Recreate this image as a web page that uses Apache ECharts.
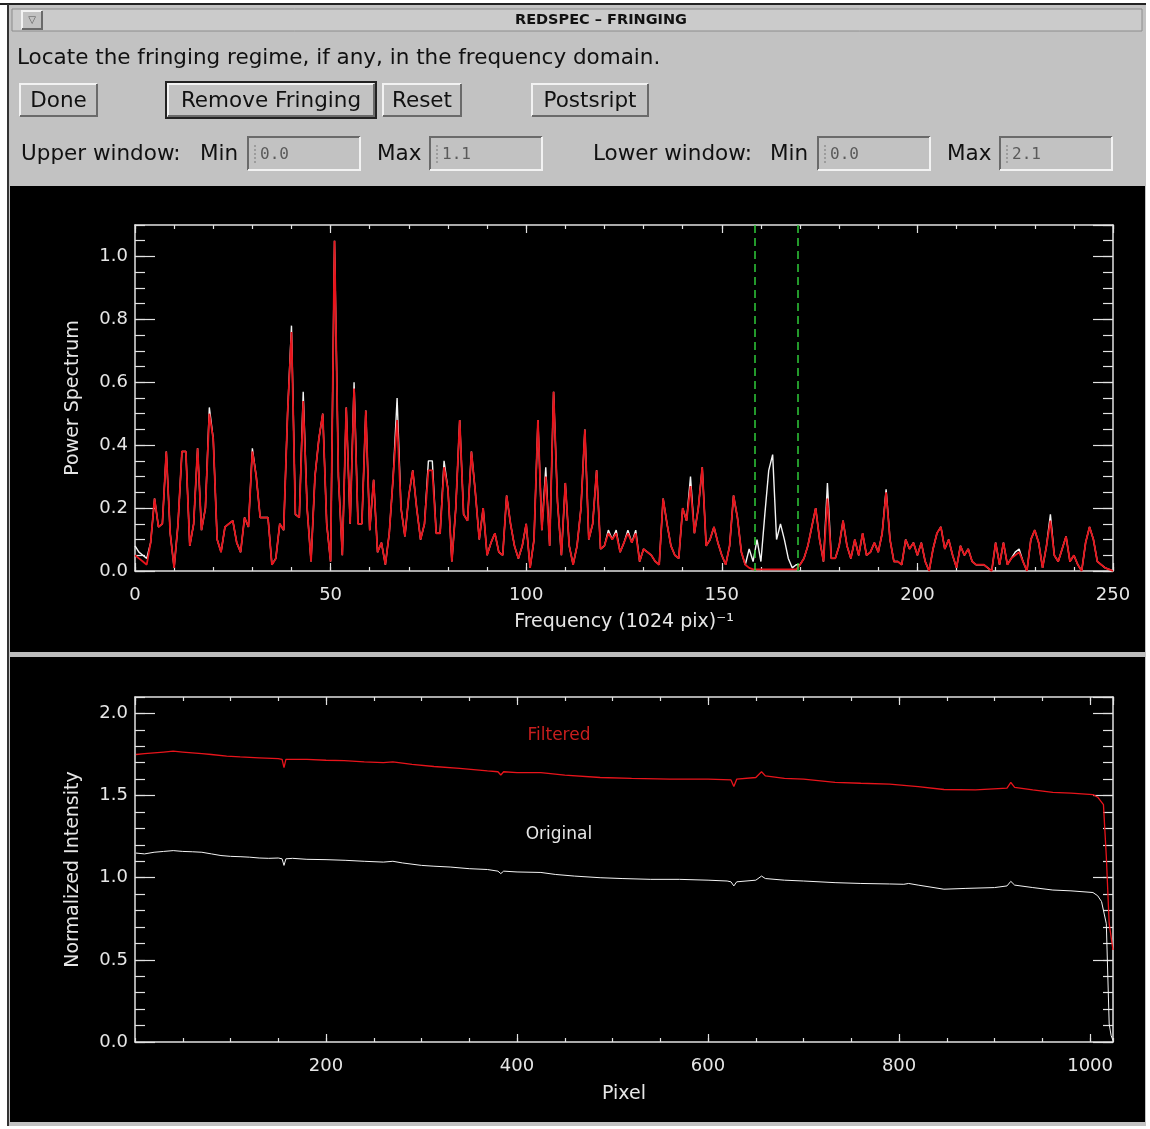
<!DOCTYPE html>
<html>
<head>
<meta charset="utf-8">
<title>REDSPEC - FRINGING</title>
<script src="https://cdn.jsdelivr.net/npm/echarts@6/dist/echarts.min.js"></script>
<style>
  * { margin: 0; padding: 0; }
  html, body { width: 1150px; height: 1129px; background: #fff; overflow: hidden; }
  #main { width: 1150px; height: 1129px; }
</style>
</head>
<body>
<div id="main"></div>
<script>
// upper window: power spectrum, one value per frequency bin (0..250)
var originalPower = [
  0.08, 0.06, 0.05, 0.04, 0.09, 0.23, 0.14, 0.15, 0.38, 0.12,
  0.01, 0.15, 0.38, 0.38, 0.08, 0.15, 0.39, 0.13, 0.20, 0.52,
  0.42, 0.10, 0.06, 0.14, 0.15, 0.16, 0.09, 0.06, 0.17, 0.14,
  0.39, 0.30, 0.17, 0.17, 0.17, 0.02, 0.04, 0.15, 0.13, 0.50,
  0.78, 0.18, 0.17, 0.57, 0.20, 0.03, 0.30, 0.42, 0.50, 0.15,
  0.03, 1.05, 0.30, 0.05, 0.52, 0.15, 0.60, 0.15, 0.15, 0.51,
  0.13, 0.29, 0.06, 0.09, 0.02, 0.12, 0.30, 0.55, 0.20, 0.11,
  0.24, 0.32, 0.20, 0.10, 0.15, 0.35, 0.35, 0.12, 0.12, 0.35,
  0.26, 0.03, 0.20, 0.48, 0.18, 0.16, 0.38, 0.25, 0.10, 0.20,
  0.05, 0.09, 0.12, 0.06, 0.05, 0.24, 0.15, 0.08, 0.04, 0.08,
  0.15, 0.01, 0.10, 0.48, 0.13, 0.33, 0.08, 0.57, 0.22, 0.05,
  0.28, 0.08, 0.02, 0.08, 0.20, 0.45, 0.10, 0.15, 0.32, 0.07,
  0.08, 0.13, 0.10, 0.13, 0.06, 0.09, 0.13, 0.09, 0.13, 0.03,
  0.07, 0.06, 0.05, 0.03, 0.02, 0.23, 0.15, 0.08, 0.05, 0.04,
  0.20, 0.16, 0.30, 0.12, 0.20, 0.33, 0.08, 0.10, 0.14, 0.09,
  0.05, 0.02, 0.08, 0.24, 0.17, 0.06, 0.02, 0.07, 0.03, 0.10,
  0.03, 0.18, 0.32, 0.37, 0.10, 0.15, 0.10, 0.04, 0.01, 0.02,
  0.02, 0.04, 0.08, 0.14, 0.20, 0.10, 0.03, 0.28, 0.04, 0.04,
  0.08, 0.16, 0.08, 0.04, 0.10, 0.05, 0.12, 0.05, 0.06, 0.09,
  0.06, 0.12, 0.26, 0.10, 0.03, 0.03, 0.02, 0.10, 0.07, 0.09,
  0.05, 0.09, 0.03, 0.00, 0.07, 0.12, 0.14, 0.07, 0.10, 0.05,
  0.01, 0.08, 0.05, 0.07, 0.03, 0.02, 0.02, 0.02, 0.01, 0.00,
  0.09, 0.02, 0.09, 0.02, 0.04, 0.06, 0.07, 0.03, 0.00, 0.10,
  0.13, 0.09, 0.01, 0.08, 0.18, 0.05, 0.03, 0.07, 0.11, 0.03,
  0.05, 0.02, 0.00, 0.09, 0.14, 0.10, 0.03, 0.02, 0.01, 0.005,
  0.00
];
var filteredPower = [
  0.05, 0.04, 0.03, 0.02, 0.09, 0.23, 0.14, 0.15, 0.38, 0.12,
  0.01, 0.15, 0.38, 0.38, 0.08, 0.15, 0.39, 0.13, 0.20, 0.50,
  0.42, 0.10, 0.06, 0.14, 0.15, 0.16, 0.09, 0.06, 0.17, 0.14,
  0.38, 0.30, 0.17, 0.17, 0.17, 0.02, 0.04, 0.15, 0.13, 0.50,
  0.76, 0.18, 0.17, 0.54, 0.20, 0.03, 0.30, 0.42, 0.50, 0.15,
  0.03, 1.05, 0.30, 0.05, 0.52, 0.15, 0.58, 0.15, 0.15, 0.51,
  0.13, 0.29, 0.06, 0.09, 0.02, 0.12, 0.30, 0.48, 0.20, 0.11,
  0.24, 0.32, 0.20, 0.10, 0.15, 0.32, 0.32, 0.12, 0.12, 0.33,
  0.26, 0.03, 0.20, 0.48, 0.18, 0.16, 0.38, 0.25, 0.10, 0.20,
  0.05, 0.09, 0.12, 0.06, 0.05, 0.24, 0.15, 0.08, 0.04, 0.08,
  0.15, 0.01, 0.10, 0.48, 0.13, 0.30, 0.08, 0.57, 0.22, 0.05,
  0.28, 0.08, 0.02, 0.08, 0.20, 0.45, 0.10, 0.15, 0.32, 0.07,
  0.08, 0.12, 0.10, 0.12, 0.06, 0.09, 0.12, 0.09, 0.12, 0.03,
  0.07, 0.06, 0.05, 0.03, 0.02, 0.23, 0.15, 0.08, 0.05, 0.04,
  0.20, 0.16, 0.27, 0.12, 0.20, 0.33, 0.08, 0.10, 0.14, 0.09,
  0.05, 0.02, 0.08, 0.24, 0.17, 0.06, 0.02, 0.01, 0.005, 0.005,
  0.005, 0.005, 0.005, 0.005, 0.005, 0.005, 0.005, 0.005, 0.005, 0.005,
  0.02, 0.04, 0.08, 0.14, 0.20, 0.10, 0.03, 0.23, 0.04, 0.04,
  0.08, 0.16, 0.08, 0.04, 0.10, 0.05, 0.12, 0.05, 0.06, 0.09,
  0.06, 0.12, 0.25, 0.10, 0.03, 0.03, 0.02, 0.10, 0.07, 0.09,
  0.05, 0.09, 0.03, 0.00, 0.07, 0.12, 0.14, 0.07, 0.10, 0.05,
  0.01, 0.08, 0.05, 0.07, 0.03, 0.02, 0.02, 0.02, 0.01, 0.00,
  0.09, 0.02, 0.09, 0.02, 0.04, 0.05, 0.06, 0.03, 0.00, 0.10,
  0.13, 0.09, 0.01, 0.08, 0.16, 0.05, 0.03, 0.07, 0.11, 0.03,
  0.05, 0.02, 0.00, 0.09, 0.14, 0.10, 0.03, 0.02, 0.01, 0.005,
  0.00
];
// frequency window picked for removal
var fringeWindow = [158.3, 169.3];

// lower window: [pixel, normalized intensity]
var originalSpec = [
  [1, 1.15], [10, 1.145], [20, 1.155], [30, 1.16], [40, 1.165], [50, 1.16], [60, 1.158],
  [70, 1.155], [80, 1.145], [90, 1.135], [100, 1.13], [110, 1.128], [120, 1.125], [130, 1.12],
  [140, 1.118], [150, 1.12], [154, 1.115], [156, 1.075], [158, 1.115], [165, 1.118], [180, 1.112],
  [200, 1.11], [220, 1.106], [240, 1.1], [260, 1.095], [270, 1.1], [280, 1.09], [300, 1.075],
  [313, 1.07], [330, 1.065], [350, 1.055], [369, 1.05], [380, 1.04], [383, 1.025], [386, 1.04],
  [400, 1.035], [425, 1.032], [440, 1.02], [460, 1.01], [487, 1.0], [510, 0.995], [540, 0.99],
  [570, 0.99], [600, 0.985], [620, 0.98], [624, 0.975], [627, 0.95], [630, 0.975], [650, 0.985],
  [656, 1.01], [660, 0.995], [680, 0.985], [700, 0.98], [733, 0.97], [760, 0.965], [790, 0.962],
  [805, 0.96], [810, 0.965], [820, 0.955], [847, 0.93], [870, 0.935], [900, 0.94], [913, 0.95],
  [917, 0.978], [921, 0.955], [940, 0.94], [961, 0.925], [980, 0.92], [1003, 0.91], [1008, 0.89],
  [1012, 0.855], [1014, 0.865], [1017, 0.72], [1020, 0.11], [1022, 0.04], [1024, 0.01]
];
var filteredSpec = [
  [1, 1.75], [10, 1.755], [20, 1.76], [30, 1.765], [40, 1.77], [50, 1.765], [60, 1.76],
  [70, 1.755], [80, 1.75], [96, 1.74], [110, 1.735], [130, 1.73], [150, 1.725], [154, 1.72],
  [156, 1.67], [158, 1.72], [180, 1.72], [200, 1.715], [219, 1.713], [240, 1.705], [260, 1.7],
  [270, 1.705], [290, 1.69], [313, 1.677], [340, 1.665], [369, 1.65], [380, 1.645], [383, 1.625],
  [386, 1.645], [400, 1.64], [425, 1.64], [450, 1.625], [487, 1.61], [520, 1.605], [560, 1.6],
  [600, 1.6], [624, 1.595], [627, 1.555], [630, 1.6], [650, 1.61], [656, 1.645], [660, 1.62],
  [680, 1.605], [700, 1.6], [733, 1.58], [760, 1.575], [790, 1.57], [820, 1.555], [847, 1.537],
  [880, 1.535], [913, 1.545], [917, 1.58], [921, 1.55], [940, 1.535], [961, 1.52], [980, 1.515],
  [1003, 1.506], [1008, 1.49], [1012, 1.46], [1014, 1.445], [1017, 1.13], [1020, 0.72], [1024, 0.56]
];

var AX = '#e2e2e2';
var TXT = '#e6e6e6';
var FONT = '"DejaVu Sans", sans-serif';
var GUI = '#c2c2c2';

function withBins(values) {
  return values.map(function (v, i) { return [i, v]; });
}

// two opposite axes (bottom/top or left/right) for one grid
function frame(grid, dim, cfg, minor) {
  var sides = dim === 'x' ? ['bottom', 'top'] : ['left', 'right'];
  return sides.map(function (side, k) {
    var main = !minor && k === 0;
    var ax = {
      type: 'value', gridIndex: grid, position: side,
      min: cfg.min, max: cfg.max, interval: minor ? cfg.minor : cfg.major,
      axisLine: { show: !minor, onZero: false, lineStyle: { color: AX, width: 1.5 } },
      axisTick: { show: true, inside: true, length: minor ? cfg.minorLen : cfg.majorLen,
                  lineStyle: { color: AX, width: 1.2 } },
      axisLabel: { show: main, color: TXT, fontSize: 18, fontFamily: FONT, margin: cfg.margin,
                   formatter: cfg.fmt, showMinLabel: cfg.showMin, showMaxLabel: cfg.showMax },
      splitLine: { show: false }
    };
    if (main) {
      ax.name = cfg.name;
      ax.nameLocation = 'middle';
      ax.nameGap = cfg.nameGap;
      ax.nameRotate = dim === 'y' ? 90 : 0;
      ax.nameTextStyle = { color: TXT, fontSize: 19, fontFamily: FONT };
    }
    return ax;
  });
}

var upperX = { min: 0, max: 250, major: 50, minor: 10, majorLen: 8, minorLen: 4, margin: 15,
  fmt: function (v) { return String(v); }, showMin: true, showMax: true,
  name: 'Frequency (1024 pix)\u207B\u00B9', nameGap: 42 };
var upperY = { min: 0, max: 1.1, major: 0.2, minor: 0.05, majorLen: 20, minorLen: 10, margin: 7,
  fmt: function (v) { return v.toFixed(1); }, showMin: true, showMax: false,
  name: 'Power Spectrum', nameGap: 52 };
var lowerX = { min: 0, max: 1024, major: 200, minor: 50, majorLen: 8, minorLen: 4, margin: 15,
  fmt: function (v) { return String(v); }, showMin: false, showMax: false,
  name: 'Pixel', nameGap: 43 };
var lowerY = { min: 0, max: 2.1, major: 0.5, minor: 0.1, majorLen: 20, minorLen: 10, margin: 7,
  fmt: function (v) { return v.toFixed(1); }, showMin: true, showMax: false,
  name: 'Normalized Intensity', nameGap: 52 };

var xAxes = [].concat(frame(0, 'x', upperX, false), frame(1, 'x', upperX, true),
                      frame(2, 'x', lowerX, false), frame(3, 'x', lowerX, true));
var yAxes = [].concat(frame(0, 'y', upperY, false), frame(1, 'y', upperY, true),
                      frame(2, 'y', lowerY, false), frame(3, 'y', lowerY, true));

// widget chrome of the IDL window
function bevel(x, y, w, h, raised) {
  var light = '#f2f2f2', dark = '#6a6a6a';
  return [
    { type: 'rect', z: -5, shape: { x: x, y: y, width: w, height: h }, style: { fill: GUI } },
    { type: 'polyline', z: -4, shape: { points: [[x, y + h], [x, y], [x + w, y]] },
      style: { stroke: raised ? light : dark, lineWidth: 2, fill: null } },
    { type: 'polyline', z: -4, shape: { points: [[x, y + h], [x + w, y + h], [x + w, y]] },
      style: { stroke: raised ? dark : light, lineWidth: 2, fill: null } }
  ];
}
function label(x, y, text, opts) {
  opts = opts || {};
  return { type: 'text', z: -3, x: x, y: y,
    style: { text: text, fill: opts.color || '#111', align: opts.align || 'left', verticalAlign: 'middle',
             font: (opts.weight || 'normal') + ' ' + (opts.size || 21.5) + 'px ' + (opts.family || FONT) } };
}
function button(x, y, w, h, text) {
  return bevel(x, y, w, h, true).concat([label(x + w / 2, y + h / 2 + 1, text, { align: 'center' })]);
}
function field(x, y, text) {
  return bevel(x, y, 112, 33, false).concat([
    { type: 'line', z: -3, shape: { x1: x + 7, y1: y + 8, x2: x + 7, y2: y + 26 },
      style: { stroke: '#777', lineWidth: 1, lineDash: [2, 2] } },
    label(x + 12, y + 18, text, { size: 16, color: '#5a5a5a', family: '"DejaVu Sans Mono", monospace' })
  ]);
}

var chrome = [
  { type: 'rect', z: -10, shape: { x: 8, y: 5, width: 1138, height: 1121 }, style: { fill: GUI } },
  { type: 'line', z: -9, shape: { x1: 0, y1: 4, x2: 1146, y2: 4 }, style: { stroke: '#222', lineWidth: 2 } },
  { type: 'line', z: -9, shape: { x1: 8, y1: 4, x2: 8, y2: 1126 }, style: { stroke: '#333', lineWidth: 2 } },
  { type: 'rect', z: -9, shape: { x: 12, y: 9, width: 1130, height: 22 },
    style: { fill: '#cbcbcb', stroke: '#8c8c8c', lineWidth: 1 } }
].concat(bevel(22, 11, 20, 18, true), [
  label(32, 20, '\u25BD', { align: 'center', size: 10, color: '#555' }),
  label(601, 20, 'REDSPEC \u2013 FRINGING', { align: 'center', size: 14.5, weight: 'bold' }),
  label(17, 58, 'Locate the fringing regime, if any, in the frequency domain.')
], button(20, 84, 77, 32, 'Done'),
   [{ type: 'rect', z: -6, shape: { x: 166, y: 82, width: 210, height: 36 },
      style: { fill: null, stroke: '#222', lineWidth: 2 } }],
   button(168, 84, 206, 32, 'Remove Fringing'),
   button(383, 84, 78, 32, 'Reset'),
   button(532, 84, 116, 32, 'Postsript'),
   [label(21, 154, 'Upper window:'), label(200, 154, 'Min'), label(377, 154, 'Max'),
    label(593, 154, 'Lower window:'), label(770, 154, 'Min'), label(947, 154, 'Max')],
   field(248, 137, '0.0'), field(430, 137, '1.1'), field(818, 137, '0.0'), field(1000, 137, '2.1'),
   [
    { type: 'rect', z: -9, shape: { x: 10, y: 186, width: 1135, height: 466 }, style: { fill: '#000' } },
    { type: 'rect', z: -9, shape: { x: 10, y: 652, width: 1135, height: 5 }, style: { fill: '#bdbdbd' } },
    { type: 'rect', z: -9, shape: { x: 10, y: 657, width: 1135, height: 465 }, style: { fill: '#000' } },
    { type: 'text', z: 10, x: 559, y: 736,
      style: { text: 'Filtered', fill: '#c81e1e', align: 'center', verticalAlign: 'middle', font: '17px ' + FONT } },
    { type: 'text', z: 10, x: 559, y: 835,
      style: { text: 'Original', fill: TXT, align: 'center', verticalAlign: 'middle', font: '17px ' + FONT } }
  ]);

var gridRect = function (top, height) { return { left: 135, top: top, width: 978, height: height, show: false }; };

var option = {
  animation: false,
  backgroundColor: '#ffffff',
  graphic: { elements: chrome },
  grid: [gridRect(225, 346), gridRect(225, 346), gridRect(697, 345), gridRect(697, 345)],
  xAxis: xAxes,
  yAxis: yAxes,
  series: [
    {
      type: 'line', name: 'Original power', xAxisIndex: 0, yAxisIndex: 0,
      data: withBins(originalPower), showSymbol: false, silent: true,
      lineStyle: { color: '#f4f4f4', width: 1.4 },
      markLine: {
        silent: true, symbol: ['none', 'none'], label: { show: false },
        lineStyle: { color: '#2fcc3a', width: 1.5, type: [8, 5] },
        data: [{ xAxis: fringeWindow[0] }, { xAxis: fringeWindow[1] }]
      }
    },
    {
      type: 'line', name: 'Filtered power', xAxisIndex: 0, yAxisIndex: 0,
      data: withBins(filteredPower), showSymbol: false, silent: true,
      lineStyle: { color: '#e8141b', width: 1.8 }
    },
    {
      type: 'line', name: 'Original', xAxisIndex: 4, yAxisIndex: 4,
      data: originalSpec, showSymbol: false, silent: true,
      lineStyle: { color: '#f4f4f4', width: 1 }
    },
    {
      type: 'line', name: 'Filtered', xAxisIndex: 4, yAxisIndex: 4,
      data: filteredSpec, showSymbol: false, silent: true,
      lineStyle: { color: '#e8141b', width: 1.3 }
    }
  ]
};

var chart = echarts.init(document.getElementById('main'));
chart.setOption(option);
</script>
</body>
</html>
